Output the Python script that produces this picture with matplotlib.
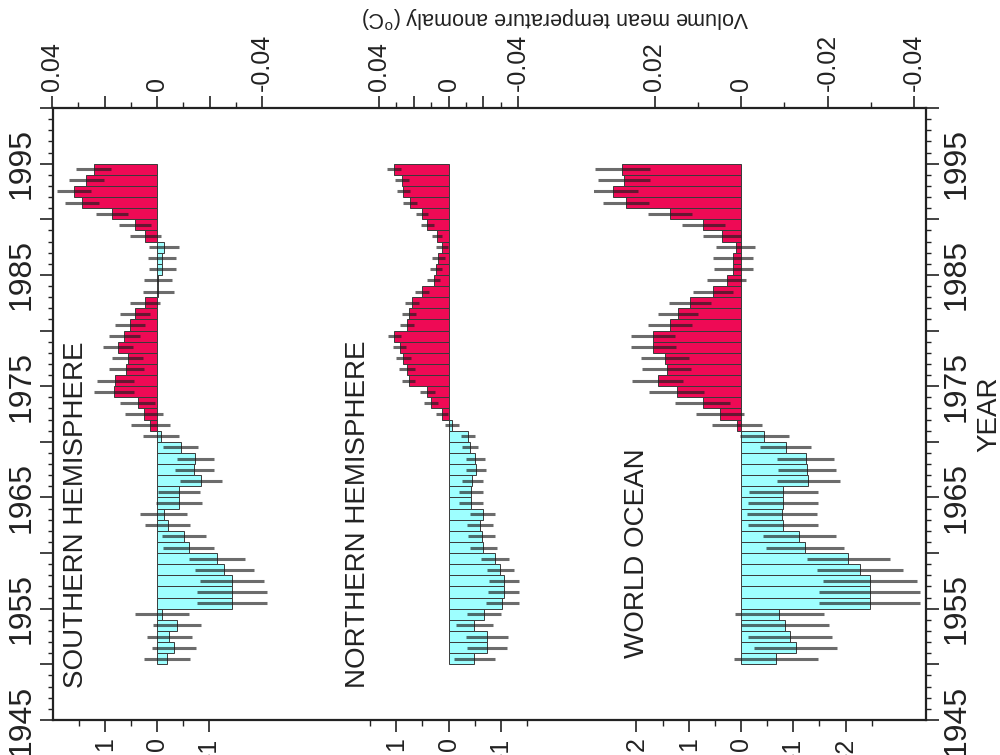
import numpy as np
import matplotlib
matplotlib.use("Agg")
import matplotlib.pyplot as plt
from matplotlib.ticker import MultipleLocator, FuncFormatter

plt.rcParams['font.family'] = ['Liberation Sans', 'DejaVu Sans']

# ---- data (5-yr running composites, centred bars 1950..1994) ----
years = np.arange(1950, 1995)

south = [-0.0038, -0.0066, -0.0047, -0.0076, -0.0019, -0.0286, -0.0286, -0.0286, -0.0257, -0.0229,
         -0.0120, -0.0102, -0.0040, -0.0025, -0.0083, -0.0083, -0.0168, -0.0142, -0.0146, -0.0091,
         -0.0015, 0.0025, 0.0050, 0.0074, 0.0165, 0.0159, 0.0117, 0.0112, 0.0149, 0.0124,
         0.0102, 0.0083, 0.0044, -0.0005, -0.0005, -0.0020, -0.0020, -0.0025, 0.0044, 0.0083,
         0.0171, 0.0286, 0.0317, 0.0269, 0.0241]
south_err = [0.0088, 0.0084, 0.0086, 0.0093, 0.0104, 0.0133, 0.0133, 0.0122, 0.0113, 0.0108,
             0.0097, 0.0084, 0.0086, 0.0089, 0.0087, 0.0079, 0.0081, 0.0075, 0.0071, 0.0067,
             0.0070, 0.0074, 0.0073, 0.0067, 0.0076, 0.0070, 0.0067, 0.0060, 0.0057, 0.0060,
             0.0057, 0.0057, 0.0057, 0.0058, 0.0053, 0.0052, 0.0054, 0.0057, 0.0059, 0.0060,
             0.0060, 0.0064, 0.0065, 0.0067, 0.0067]

north = [-0.0148, -0.0220, -0.0220, -0.0148, -0.0205, -0.0310, -0.0317, -0.0317, -0.0299, -0.0269,
         -0.0200, -0.0192, -0.0182, -0.0196, -0.0129, -0.0129, -0.0138, -0.0157, -0.0153, -0.0125,
         -0.0110, -0.0020, 0.0038, 0.0102, 0.0121, 0.0230, 0.0240, 0.0259, 0.0282, 0.0311,
         0.0240, 0.0226, 0.0211, 0.0153, 0.0086, 0.0071, 0.0058, 0.0038, 0.0067, 0.0121,
         0.0153, 0.0221, 0.0259, 0.0269, 0.0313]
north_err = [0.0117, 0.0115, 0.0120, 0.0106, 0.0100, 0.0093, 0.0091, 0.0086, 0.0079, 0.0081,
             0.0079, 0.0077, 0.0074, 0.0072, 0.0070, 0.0070, 0.0060, 0.0058, 0.0055, 0.0045,
             0.0040, 0.0040, 0.0035, 0.0040, 0.0045, 0.0040, 0.0045, 0.0045, 0.0040, 0.0040,
             0.0040, 0.0040, 0.0040, 0.0040, 0.0035, 0.0035, 0.0035, 0.0035, 0.0030, 0.0035,
             0.0035, 0.0040, 0.0040, 0.0040, 0.0040]

world = [-0.0081, -0.0127, -0.0113, -0.0102, -0.0089, -0.0298, -0.0298, -0.0298, -0.0275, -0.0248,
         -0.0148, -0.0135, -0.0098, -0.0094, -0.0098, -0.0098, -0.0156, -0.0152, -0.0150, -0.0104,
         -0.0054, 0.0010, 0.0049, 0.0089, 0.0149, 0.0193, 0.0172, 0.0176, 0.0203, 0.0204,
         0.0164, 0.0146, 0.0118, 0.0064, 0.0033, 0.0018, 0.0018, 0.0012, 0.0045, 0.0087,
         0.0164, 0.0266, 0.0297, 0.0271, 0.0274]
world_err = [0.0098, 0.0096, 0.0097, 0.0102, 0.0103, 0.0117, 0.0117, 0.0109, 0.0099, 0.0096,
             0.0090, 0.0085, 0.0081, 0.0081, 0.0081, 0.0079, 0.0072, 0.0067, 0.0066, 0.0059,
             0.0057, 0.0058, 0.0056, 0.0064, 0.0064, 0.0060, 0.0056, 0.0055, 0.0052, 0.0051,
             0.0051, 0.0047, 0.0048, 0.0046, 0.0045, 0.0045, 0.0046, 0.0045, 0.0044, 0.0050,
             0.0050, 0.0054, 0.0058, 0.0060, 0.0063]

panel_names = ['SOUTHERN HEMISPHERE', 'NORTHERN HEMISPHERE', 'WORLD OCEAN']

# top (temperature) ticks and labels per panel
temp_major = [[0.04, 0.02, 0, -0.02, -0.04], [0.04, 0.02, 0, -0.02, -0.04], [0.02, 0, -0.02, -0.04]]
temp_labels = [['0.04', '', '0', '', '-0.04'], ['0.04', '', '0', '', '-0.04'], ['0.02', '0', '-0.02', '-0.04']]
temp_minor = [[0.03, 0.01, -0.01, -0.03], [0.03, 0.01, -0.01, -0.03], [0.01, -0.01, -0.03]]
# bottom (heat content) ticks per panel
heat_major = [[1, 0, -1], [1, 0, -1], [2, 1, 0, -1, -2]]
heat_minor = [[1.5, 0.5, -0.5], [1.5, 0.5, -0.5, -1.5], [1.5, 0.5, -0.5, -1.5, -2.5]]
heat_factor = [0.0199, 0.0303, 0.0121]   # degC per heat unit

# ---- layout (pixels) ----
W, H = 1000, 755
frame_l, frame_r, frame_t, frame_b = 53, 926, 108, 720
# zero position, px per degC, visible range
panel_geo = [(157, 2625, 0.0402, -0.055),
             (448.5, 1737.5, 0.047, -0.047),
             (741, 4325, 0.034, -0.0425)]
name_pos = [(76, 688), (358, 688), (637, 658)]

RED = '#EE0A55'
CYAN = '#9EFFFF'
INK = '#222222'

fig = plt.figure(figsize=(10, 7.55), dpi=100)

ax = fig.add_axes([frame_l / W, 1 - frame_b / H, (frame_r - frame_l) / W, (frame_b - frame_t) / H])
ax.set_ylim(1945, 2000)
ax.set_xticks([])
ax.yaxis.set_major_locator(MultipleLocator(5))
ax.yaxis.set_minor_locator(MultipleLocator(1))
ax.yaxis.set_major_formatter(FuncFormatter(lambda v, p: '%d' % v if int(round(v)) % 10 == 5 else ''))
ax.tick_params(axis='y', which='both', direction='out', left=True, right=True,
               labelleft=True, labelright=True, labelsize=23, colors=INK, labelrotation=90)
ax.tick_params(axis='y', which='major', length=9.5, width=1.2, pad=2)
ax.tick_params(axis='y', which='minor', length=3.8, width=1.0)
for lab in ax.get_yticklabels():
    lab.set_va('center')
for s in ax.spines.values():
    s.set_linewidth(1.6)
    s.set_color(INK)

series = [(south, south_err), (north, north_err), (world, world_err)]
for i, (vals, errs) in enumerate(series):
    zero, ppu, hi, lo = panel_geo[i]
    left = zero - hi * ppu
    right = zero - lo * ppu
    pax = fig.add_axes([left / W, 1 - frame_b / H, (right - left) / W, (frame_b - frame_t) / H])
    pax.patch.set_visible(False)
    for s in pax.spines.values():
        s.set_visible(False)
    pax.set_xlim(hi, lo)
    pax.set_ylim(1945, 2000)
    pax.set_yticks([])

    vals = np.array(vals)
    errs = np.array(errs)
    cols = [RED if v > 0 else CYAN for v in vals]
    pax.barh(years + 0.5, vals, height=1.0, color=cols, edgecolor='#3a3a3a', linewidth=0.7, zorder=2)
    pax.hlines(years + 0.5, vals - errs, vals + errs, colors='#1e1e1e', linewidth=2.2, alpha=0.65, zorder=3)

    pax.xaxis.tick_top()
    pax.set_xticks(temp_major[i])
    pax.set_xticklabels(temp_labels[i])
    pax.set_xticks(temp_minor[i], minor=True)
    pax.tick_params(axis='x', which='both', direction='out', colors=INK, labelsize=18, labelrotation=90)
    pax.tick_params(axis='x', which='major', length=8.5, width=1.2, pad=4)
    pax.tick_params(axis='x', which='minor', length=4.3, width=1.0)

    k = heat_factor[i]
    sec = pax.secondary_xaxis('bottom', functions=(lambda t, k=k: t / k, lambda h, k=k: h * k))
    sec.spines['bottom'].set_visible(False)
    sec.set_xticks(heat_major[i])
    sec.set_xticklabels(['%g' % h for h in heat_major[i]])
    sec.set_xticks(heat_minor[i], minor=True)
    sec.tick_params(axis='x', which='both', direction='out', colors=INK, labelsize=18, labelrotation=90)
    sec.tick_params(axis='x', which='major', length=8.5, width=1.2, pad=4)
    sec.tick_params(axis='x', which='minor', length=4.3, width=1.0)

    nx, ny = name_pos[i]
    fig.text(nx / W, 1 - ny / H, panel_names[i], rotation=90, ha='center', va='bottom',
             fontsize=20, color=INK)

fig.text(555 / W, 1 - 17 / H, r'Volume mean temperature anomaly ($^{\mathregular{o}}$C)',
         rotation=180, ha='center', va='center', fontsize=15.5, color=INK)
fig.text(989 / W, 1 - 414 / H, 'YEAR', rotation=90, ha='center', va='center', fontsize=20, color=INK)

fig.savefig('out.png', dpi=100)
